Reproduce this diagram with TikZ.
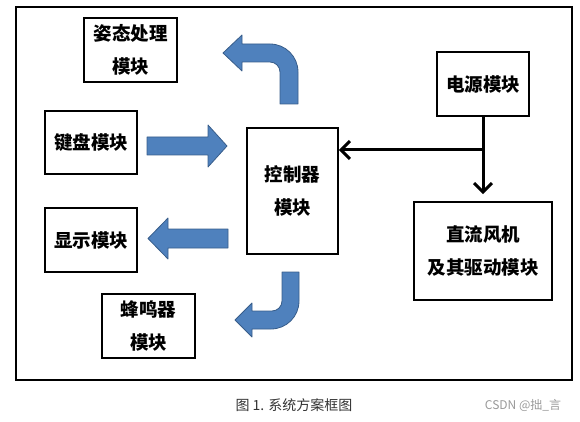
\documentclass[tikz,border=0pt]{standalone}
\usepackage{fontspec}
\newfontfamily\cjk{Noto Sans CJK SC}
\usetikzlibrary{arrows.meta}
\definecolor{arrowblue}{HTML}{4F81BD}
\definecolor{arrowedge}{HTML}{385D8A}
\tikzset{
  modbox/.style={draw,line width=1.6pt,inner sep=0pt,align=center,
    font=\cjk\bfseries\fontsize{18.5}{33}\selectfont},
  bluearrow/.style={fill=arrowblue,draw=arrowedge,line width=0.8pt,line join=round},
  feed/.style={line width=3pt,-{Straight Barb[length=9pt,width=18pt,line width=3pt]}}
}

\begin{document}
\begin{tikzpicture}[x=1pt,y=-1pt]
  \useasboundingbox (0,0) rectangle (580,422);
  \draw[line width=1.6pt] (16,7) rectangle (572,380);
  % modules
  \node[modbox,minimum width=93,minimum height=64] (att) at (130.5,50) {姿态处理\\模块};
  \node[modbox,minimum width=92,minimum height=63] (kbd) at (91,142.5) {键盘模块};
  \node[modbox,minimum width=92,minimum height=64] (disp) at (91,240) {显示模块};
  \node[modbox,minimum width=93,minimum height=64] (buz) at (148.5,326) {蜂鸣器\\模块};
  \node[modbox,minimum width=91,minimum height=126] (ctrl) at (292.5,191) {控制器\\模块};
  \node[modbox,minimum width=92,minimum height=64] (pwr) at (483,84) {电源模块};
  \node[modbox,minimum width=138,minimum height=98] (fan) at (483,251) {直流风机\\及其驱动模块};
  % power lines
  \coordinate (jn) at (pwr.south |- 0,150);
  \draw[feed] (pwr.south) -- ([yshift=7pt]fan.north);
  \draw[feed] (jn) -- (ctrl.east |- jn);
  % block arrows
  \draw[bluearrow] (147,137) -- (208,137) -- (208,125) -- (227,146) -- (208,167) -- (208,155) -- (147,155) -- cycle;
  \draw[bluearrow] (228,229) -- (168,229) -- (168,218) -- (148,238.5) -- (168,259) -- (168,248) -- (228,248) -- cycle;
  \draw[bluearrow] (280,104) -- (280,72) .. controls (280,66.5) and (275.5,62) .. (270,62) -- (242,62) -- (242,71) -- (223,53) -- (242,35) -- (242,44) -- (270,44) .. controls (285.5,44) and (298,56.5) .. (298,72) -- (298,104) -- cycle;
  \draw[bluearrow] (299,272) -- (299,301) .. controls (299,316.5) and (286.5,329) .. (271,329) -- (252,329) -- (252,337) -- (235,320) -- (252,303) -- (252,311) -- (272,311) .. controls (277.5,311) and (282,306.5) .. (282,301) -- (282,272) -- cycle;
  % caption
  \node[font=\cjk\fontsize{14}{16}\selectfont,text=black!80] (cap) at (294,405) {图 1. 系统方案框图};
  \node[font=\cjk\fontsize{12}{14}\selectfont,text=black!40] (mark) at (523,405) {CSDN @拙\_言};
\end{tikzpicture}
\end{document}
